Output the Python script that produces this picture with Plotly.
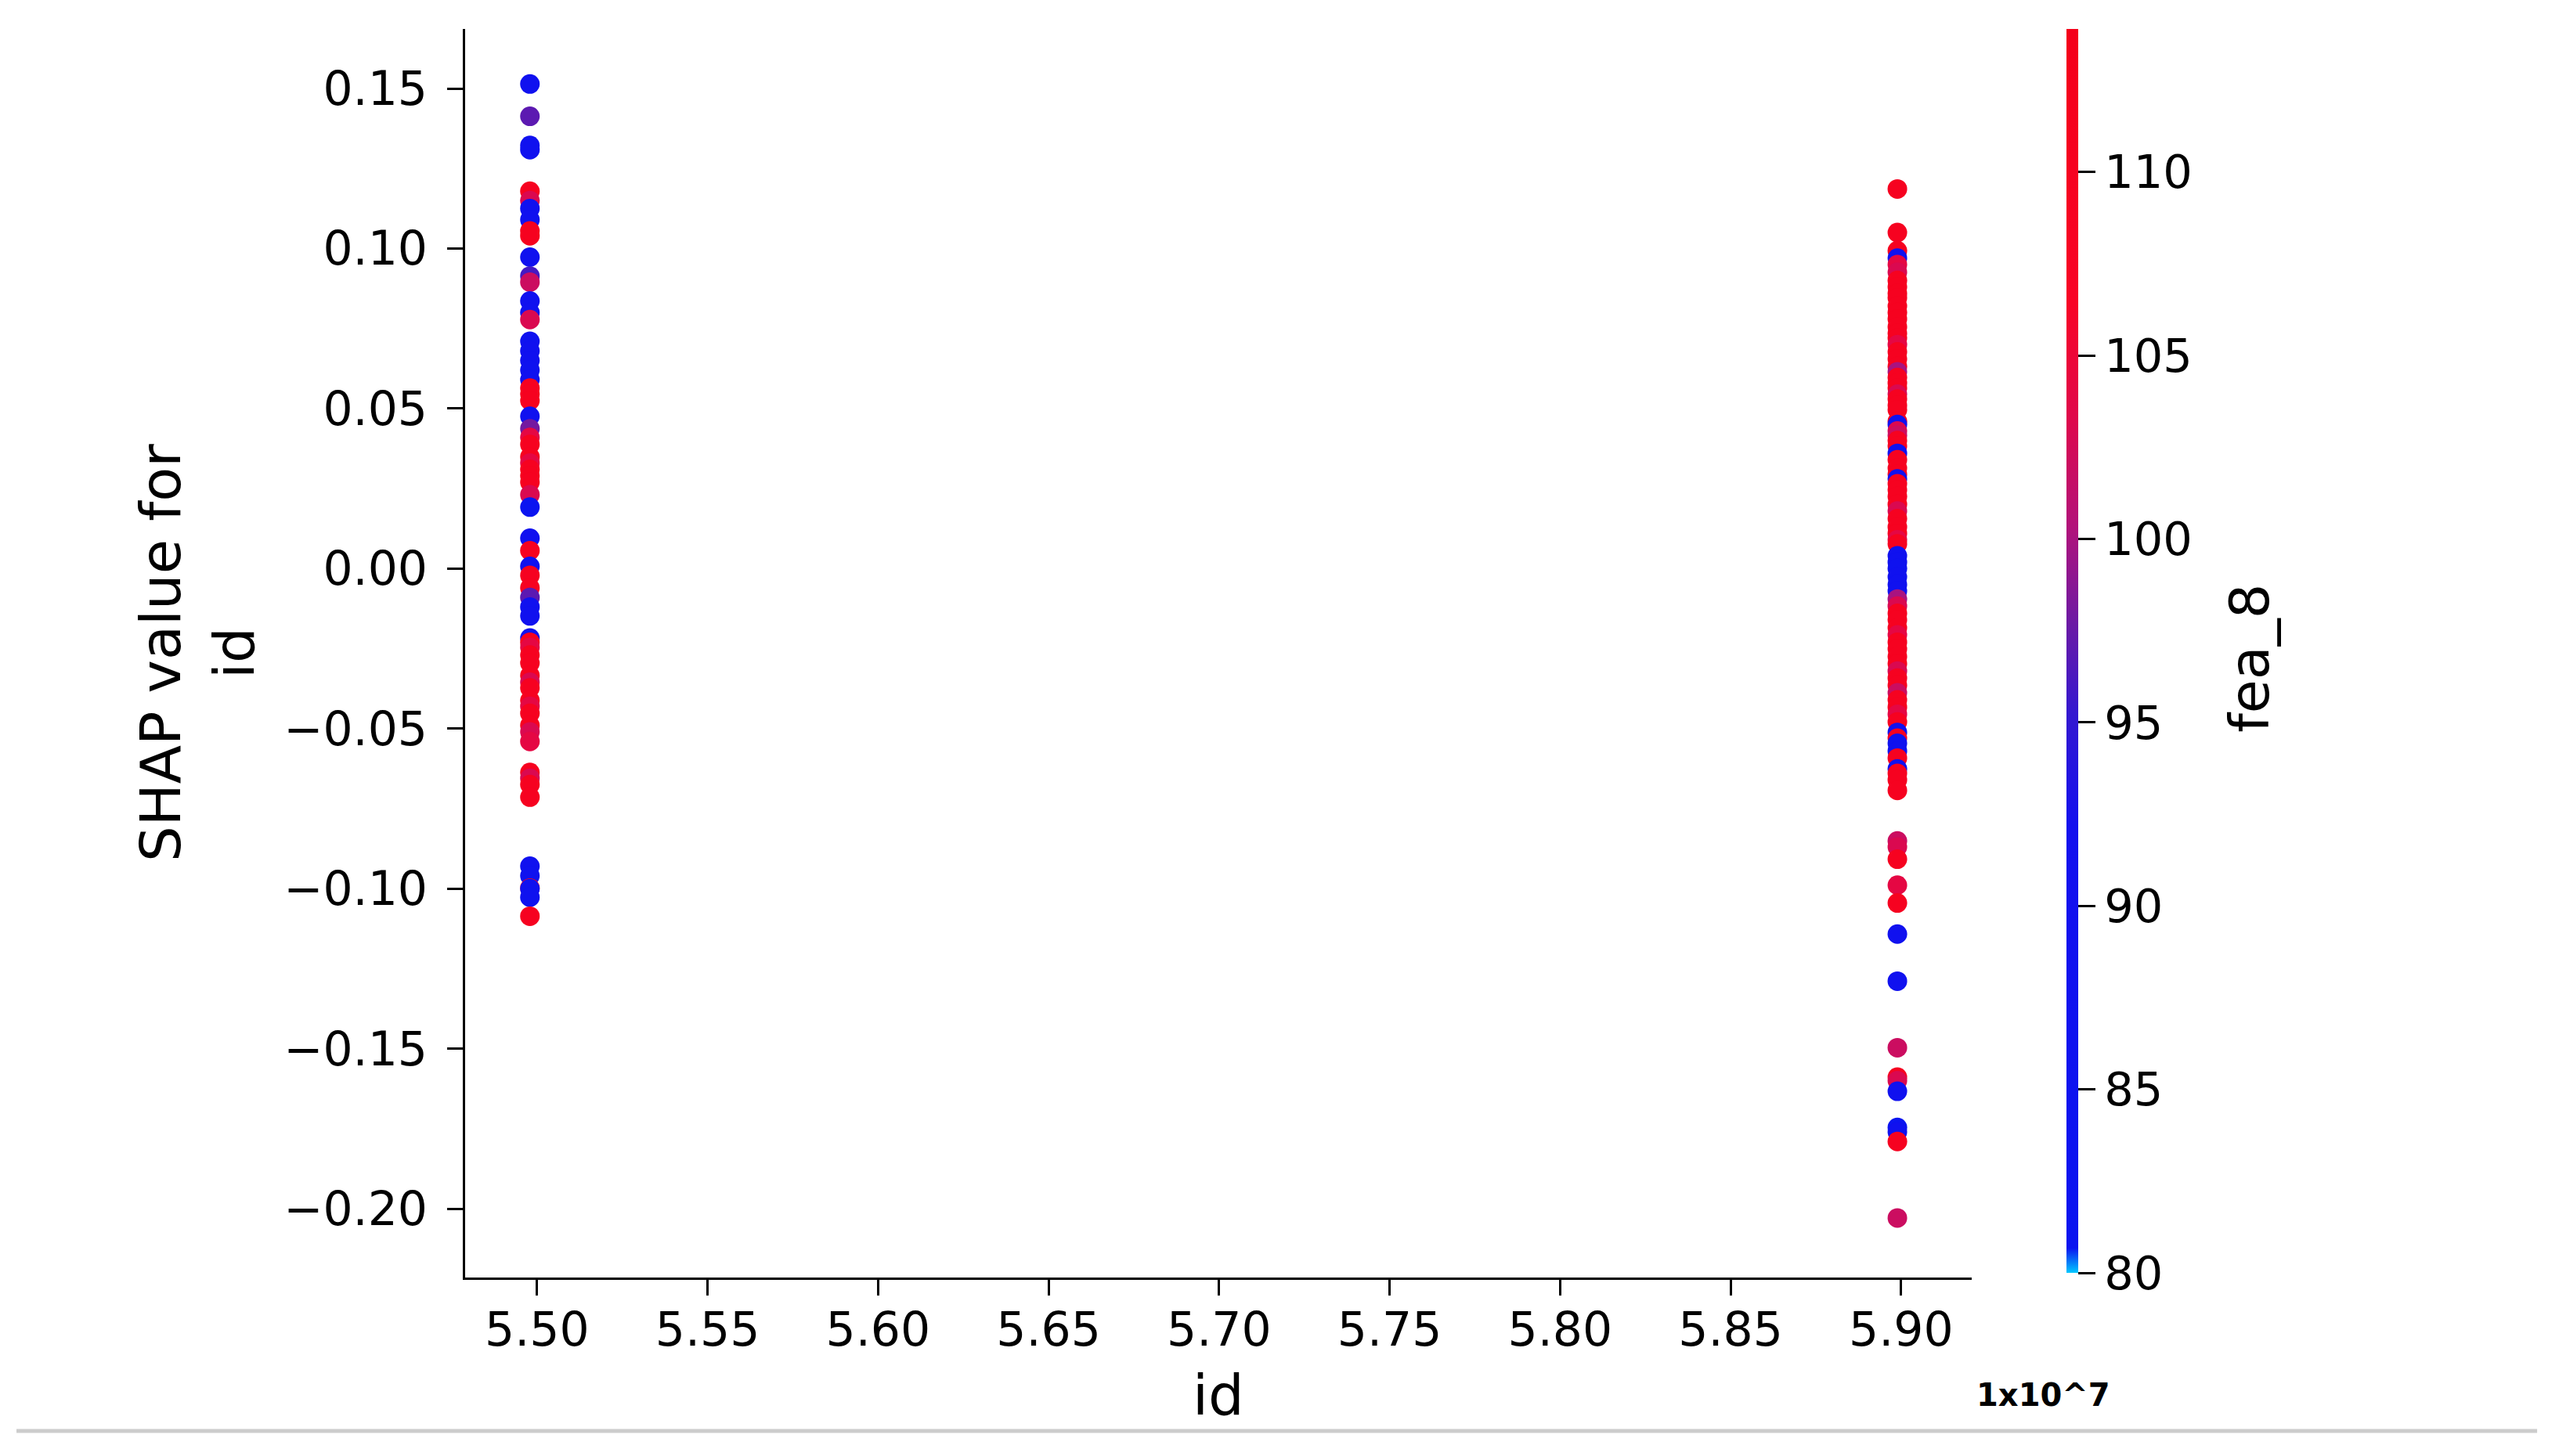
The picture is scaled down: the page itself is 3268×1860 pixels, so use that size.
"""
SHAP dependence plot: SHAP value for id vs. id, coloured by fea_8.
"""

import plotly.graph_objects as go

# --- data ------------------------------------------------------------------
ID_LEFT = 54979000
ID_RIGHT = 58989000

SHAP_LEFT = [
    0.1514, 0.1413, 0.1309, 0.1322, 0.1179, 0.1150, 0.1125, 0.1090, 0.1040, 0.1055,
    0.0973, 0.0914, 0.0895, 0.0836, 0.0800, 0.0778, 0.0710, 0.0680, 0.0650, 0.0620,
    0.0590, 0.0564, 0.0545, 0.0525, 0.0476, 0.0437, 0.0410, 0.0388, 0.0349, 0.0330,
    0.0310, 0.0290, 0.0270, 0.0231, 0.0192, 0.0095, 0.0056, 0.0007, -0.0021, -0.0060,
    -0.0090, -0.0120, -0.0148, -0.0217, -0.0230, -0.0246, -0.0270, -0.0295, -0.0334, -0.0355,
    -0.0373, -0.0412, -0.0430, -0.0452, -0.0490, -0.0510, -0.0540, -0.0637, -0.0655, -0.0675,
    -0.0714, -0.0930, -0.0960, -0.0998, -0.1000, -0.1027, -0.1086,
]
FEA_LEFT = [
    88, 97, 88, 88, 110, 103, 88, 88, 110, 111,
    88, 96, 102, 88, 88, 103, 87, 88, 88, 87,
    88, 110, 110, 111, 88, 98, 104, 110, 110, 104,
    110, 111, 110, 103, 82, 88, 110, 88, 110, 110,
    97, 88, 88, 88, 110, 104, 110, 110, 110, 103,
    110, 110, 104, 110, 110, 103, 104, 110, 103, 110,
    110, 88, 87, 110, 88, 86, 110,
]

SHAP_RIGHT = [
    0.1186, 0.1050, 0.0993, 0.0970, 0.0950, 0.0926, 0.0900, 0.0880, 0.0860, 0.0846,
    0.0820, 0.0800, 0.0780, 0.0755, 0.0735, 0.0720, 0.0700, 0.0677, 0.0655, 0.0631,
    0.0615, 0.0597, 0.0580, 0.0564, 0.0545, 0.0530, 0.0510, 0.0496, 0.0460, 0.0450,
    0.0430, 0.0416, 0.0400, 0.0383, 0.0360, 0.0340, 0.0314, 0.0295, 0.0280, 0.0265,
    0.0246, 0.0225, 0.0201, 0.0180, 0.0156, 0.0130, 0.0110, 0.0090, 0.0077, 0.0040,
    0.0020, 0.0000, -0.0026, -0.0050, -0.0070, -0.0095, -0.0117, -0.0140, -0.0160, -0.0185,
    -0.0207, -0.0230, -0.0251, -0.0275, -0.0297, -0.0320, -0.0342, -0.0365, -0.0388, -0.0410,
    -0.0433, -0.0455, -0.0479, -0.0512, -0.0530, -0.0546, -0.0570, -0.0592, -0.0626, -0.0640,
    -0.0660, -0.0693, -0.0851, -0.0870, -0.0908, -0.0989, -0.1045, -0.1142, -0.1289, -0.1497,
    -0.1589, -0.1600, -0.1633, -0.1746, -0.1760, -0.1790, -0.2029,
]
FEA_RIGHT = [
    110, 110, 111, 88, 104, 103, 110, 110, 111, 110,
    110, 110, 111, 110, 110, 110, 104, 110, 110, 110,
    100, 110, 110, 110, 103, 110, 110, 110, 110, 88,
    103, 102, 110, 110, 88, 110, 110, 110, 88, 110,
    110, 110, 110, 103, 110, 110, 110, 104, 110, 88,
    88, 87, 88, 88, 88, 100, 103, 110, 110, 110,
    104, 110, 110, 110, 110, 103, 110, 110, 102, 110,
    110, 104, 110, 88, 110, 87, 88, 110, 88, 110,
    110, 110, 102, 103, 110, 104, 110, 88, 88, 102,
    110, 103, 88, 82, 88, 110, 102,
]

X_TICKS = [5.50e7, 5.55e7, 5.60e7, 5.65e7, 5.70e7, 5.75e7, 5.80e7, 5.85e7, 5.90e7]
Y_TICKS = [-0.20, -0.15, -0.10, -0.05, 0.00, 0.05, 0.10, 0.15]
C_TICKS = [80, 85, 90, 95, 100, 105, 110]

# --- styling ---------------------------------------------------------------
FONT = "DejaVu Sans, Verdana, sans-serif"
NEGRO = "#000000"

ESCALA = [
    [0.00, "#00c8ff"],
    [0.02, "#0a14f0"],
    [0.36, "#1410ee"],
    [0.45, "#3418d0"],
    [0.52, "#6a1aa6"],
    [0.60, "#b2127a"],
    [0.69, "#e0084a"],
    [0.78, "#f80426"],
    [1.00, "#f4001a"],
]

ids = [ID_LEFT] * len(SHAP_LEFT) + [ID_RIGHT] * len(SHAP_RIGHT)
shap = SHAP_LEFT + SHAP_RIGHT
fea = FEA_LEFT + FEA_RIGHT

fig = go.Figure()
fig.add_trace(
    go.Scatter(
        x=ids,
        y=shap,
        mode="markers",
        marker=dict(
            size=25,
            color=fea,
            colorscale=ESCALA,
            cmin=80,
            cmax=113.9,
            line=dict(width=0),
            colorbar=dict(
                thickness=15,
                len=0.996,
                lenmode="fraction",
                y=1,
                yanchor="top",
                x=1.063,
                xanchor="left",
                xpad=0,
                ypad=0,
                outlinewidth=0,
                tickvals=C_TICKS,
                ticks="outside",
                ticklen=22,
                tickwidth=3,
                tickcolor=NEGRO,
                tickfont=dict(family=FONT, size=59, color=NEGRO),
            ),
        ),
        showlegend=False,
    )
)

eje = dict(
    showline=True,
    linecolor=NEGRO,
    linewidth=3,
    ticks="outside",
    ticklen=20,
    tickwidth=3,
    tickcolor=NEGRO,
    showgrid=False,
    zeroline=False,
    tickfont=dict(family=FONT, size=60, color=NEGRO),
)

fig.update_xaxes(
    range=[5.4789e7, 5.9207e7],
    tickvals=X_TICKS,
    ticktext=[f"{v / 1e7:.2f}" for v in X_TICKS],
    ticklabelstandoff=-8,
    **eje,
)
fig.update_yaxes(
    range=[-0.2215, 0.1686],
    tickvals=Y_TICKS,
    tickformat=".2f",
    ticklabelstandoff=13,
    **eje,
)

# el body de la página añade 8 px de margen: se descuenta aquí
fig.update_layout(
    width=3268,
    height=1860,
    paper_bgcolor="white",
    plot_bgcolor="white",
    margin=dict(l=586, r=758, t=29, b=236),
    font=dict(family=FONT, color=NEGRO),
    annotations=[
        dict(text="SHAP value for<br>id", xref="paper", yref="paper",
             x=-0.178, y=0.5, xanchor="center", yanchor="middle",
             textangle=-90, showarrow=False, font=dict(size=72)),
        dict(text="id", xref="paper", yref="paper",
             x=0.5, y=-0.094, xanchor="center", yanchor="middle",
             showarrow=False, font=dict(size=72)),
        dict(text="fea_8", xref="paper", yref="paper",
             x=1.1845, y=0.496, xanchor="center", yanchor="middle",
             textangle=-90, showarrow=False, font=dict(size=70)),
        dict(text="<b>1x10^7</b>", xref="paper", yref="paper",
             x=1.0478, y=-0.094, xanchor="center", yanchor="middle",
             showarrow=False, font=dict(size=40)),
    ],
    shapes=[
        dict(type="line", xref="paper", yref="paper",
             x0=-0.2978, x1=1.3753, y0=-0.1229, y1=-0.1229,
             line=dict(color="#cccccc", width=5)),
    ],
)

fig.write_html("out.html")
